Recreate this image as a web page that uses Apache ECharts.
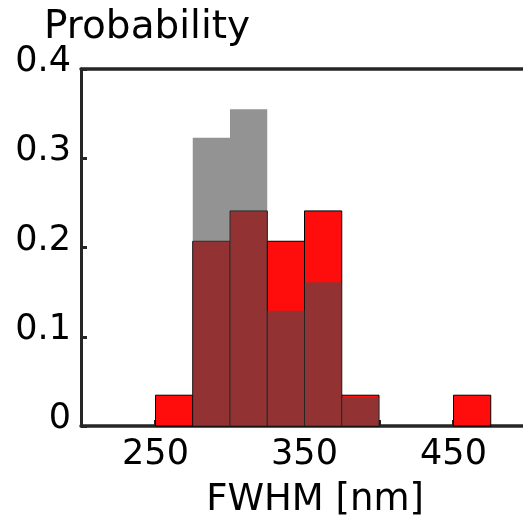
<!DOCTYPE html>
<html><head><meta charset="utf-8">
<script src="https://cdn.jsdelivr.net/npm/echarts@6/dist/echarts.min.js"></script>
<style>html,body{margin:0;padding:0;background:#fff;overflow:hidden;width:523px;height:523px}#c{width:531px;height:523px}</style>
</head><body><div id="c"></div>
<script>
const binWidth = 25;
const redStarts = [250, 275, 300, 325, 350, 375, 400, 425, 450];
const redValues = [0.0345, 0.207, 0.241, 0.207, 0.241, 0.0345, 0, 0, 0.0345];
const grayStarts = [275, 300, 325, 350, 375];
const grayValues = [0.323, 0.355, 0.129, 0.161, 0.032];
const xTickLabels = [250, 350, 450];
const yTickLabels = ['0', '0.1', '0.2', '0.3', '0.4'];

const FONT = 'DejaVu Sans';
const AX = '#262626';

function toRects(starts, vals) {
  return starts.map((s, i) => [s, s + binWidth, vals[i]]);
}
function renderer(fill, stroke, lw) {
  return function (params, api) {
    const p0 = api.coord([api.value(0), api.value(2)]);
    const p1 = api.coord([api.value(1), 0]);
    if (api.value(2) <= 0) return null;
    return {
      type: 'rect',
      shape: { x: p0[0], y: p0[1], width: p1[0] - p0[0], height: p1[1] - p0[1] },
      style: { fill: fill, stroke: stroke, lineWidth: lw }
    };
  };
}

const chart = echarts.init(document.getElementById('c'), null, { renderer: 'canvas', width: 531, height: 523 });
chart.setOption({
  animation: false,
  backgroundColor: '#fff',
  title: {
    text: 'Probability', left: 39, top: 3,
    textStyle: { fontFamily: FONT, fontSize: 39, fontWeight: 'normal', color: '#000' }
  },
  graphic: [{
    type: 'text', x: 315, y: 482,
    style: { text: 'FWHM [nm]', font: '37px "DejaVu Sans"', fill: '#000', align: 'center', verticalAlign: 'top' }
  }],
  grid: { left: 81, top: 69, right: 0, bottom: 97, containLabel: false },
  xAxis: [{
    type: 'value', min: 200, max: 500, interval: 50, position: 'bottom',
    splitLine: { show: false },
    axisLine: { show: true, onZero: false, lineStyle: { color: AX, width: 3.5 } },
    axisTick: { show: true, inside: true, length: 6, lineStyle: { color: AX, width: 3 } },
    axisLabel: {
      margin: 11, fontFamily: FONT, fontSize: 35, color: '#000',
      formatter: v => xTickLabels.indexOf(v) >= 0 ? String(v) : ''
    }
  }, {
    type: 'value', min: 200, max: 500, position: 'top',
    splitLine: { show: false },
    axisLine: { show: true, onZero: false, lineStyle: { color: AX, width: 3.5 } },
    axisTick: { show: false }, axisLabel: { show: false }
  }],
  yAxis: {
    type: 'value', min: 0, max: 0.4, interval: 0.1,
    splitLine: { show: false },
    axisLine: { show: true, lineStyle: { color: AX, width: 3 } },
    axisTick: { show: true, inside: true, length: 6, lineStyle: { color: AX, width: 3 } },
    axisLabel: {
      margin: 10, color: '#000', fontFamily: FONT, fontSize: 35,
      lineHeight: 14, verticalAlign: 'bottom',
      formatter: (v, i) => yTickLabels[i]
    }
  },
  series: [{
    type: 'custom', xAxisIndex: 0, renderItem: renderer('#ff0d0d', '#000', 1),
    data: toRects(redStarts, redValues), z: 1
  }, {
    type: 'custom', xAxisIndex: 0, renderItem: renderer('rgba(75,75,75,0.6)', null, 0),
    data: toRects(grayStarts, grayValues), z: 2
  }]
});
</script></body></html>
